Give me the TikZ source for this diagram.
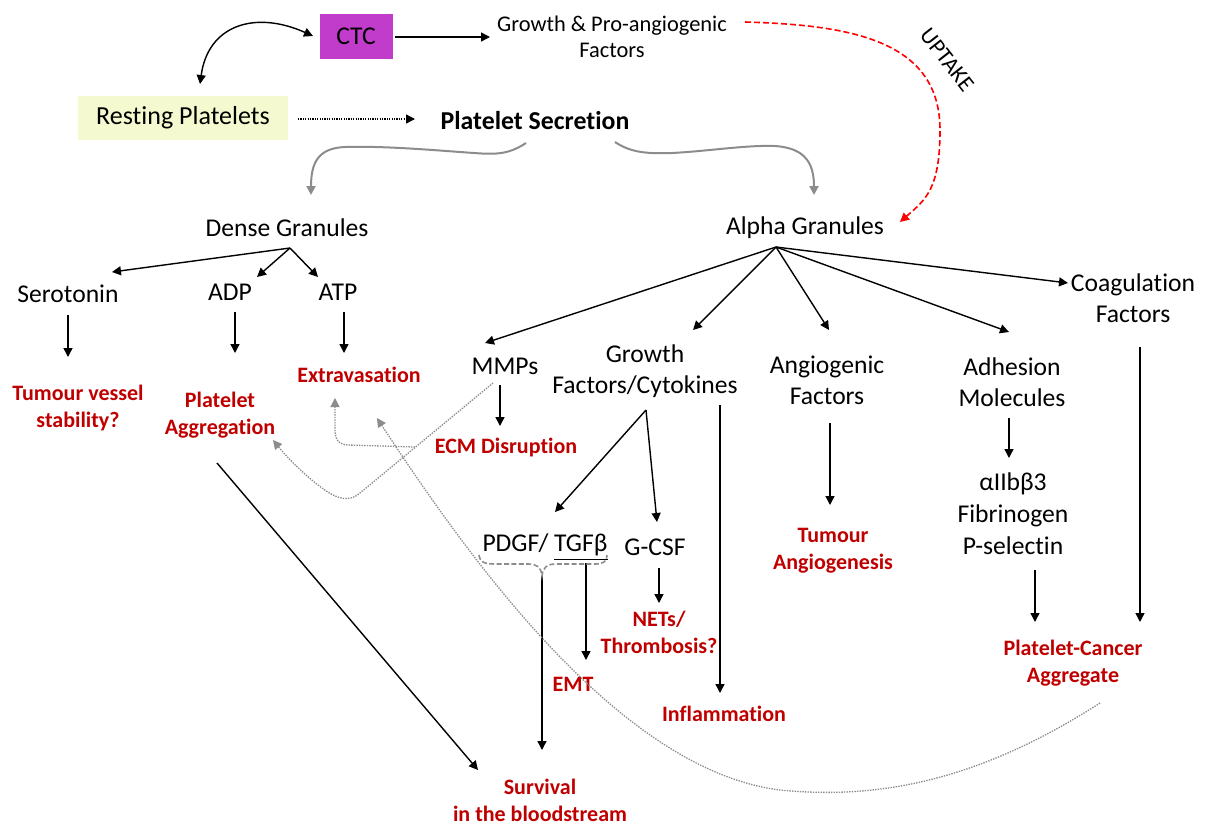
\documentclass[tikz,border=0pt]{standalone}
\usepackage{fontspec}
\setmainfont{Carlito}[Ligatures=NoCommon]
\usetikzlibrary{arrows.meta,calc}
\definecolor{dred}{RGB}{192,0,0}
\definecolor{ctcfill}{RGB}{194,60,204}
\definecolor{restfill}{RGB}{245,249,207}
\definecolor{gcol}{RGB}{140,140,140}
\definecolor{dcol}{RGB}{140,140,140}
\tikzset{
  lbl/.style={font=\fontsize{12.8}{15.5}\selectfont, align=center, inner sep=0pt},
  rlbl/.style={font=\fontsize{11}{13.4}\selectfont\bfseries, text=dred, align=center, inner sep=0pt},
  arr/.style={-{Triangle[length=4.5pt,width=4.5pt]}, line width=0.7pt},
  dblarr/.style={{Triangle[length=4.5pt,width=4.5pt]}-{Triangle[length=4.5pt,width=4.5pt]}, line width=0.7pt},
  gcurve/.style={-{Triangle[length=4.5pt,width=4.5pt]}, draw=gcol, line width=1pt},
  gdot/.style={-{Triangle[length=4.5pt,width=4.5pt]}, draw=dcol, line width=0.65pt, dash pattern=on 0.7pt off 0.6pt},
  uparr/.style={-{Triangle[length=4.5pt,width=4.5pt]}, draw=red, line width=0.8pt, dash pattern=on 3pt off 1.5pt},
  dotarr/.style={-{Triangle[length=4.5pt,width=4.5pt]}, line width=0.7pt, dash pattern=on 0.6pt off 0.6pt},
}
\begin{document}
\begin{tikzpicture}[x=0.5pt,y=-0.5pt]
\useasboundingbox (0,0) rectangle (1206,826);

% ---- top nodes
\node[fill=ctcfill, minimum width=36.5pt, minimum height=22.5pt, inner sep=0pt, font=\fontsize{12.8}{15}\selectfont] (ctc) at (356,36) {CTC};
\node[inner sep=0pt, align=center, font=\fontsize{11.2}{13}\selectfont] (gf) at (612,37) {Growth \& Pro-angiogenic\\Factors};
\node[fill=restfill, minimum width=105pt, minimum height=22pt, inner sep=0pt, font=\fontsize{13}{15}\selectfont] (rest) at (183,118) {Resting Platelets};
\node[inner sep=0pt, font=\fontsize{12.9}{15}\selectfont\bfseries] (ps) at (535,121) {Platelet Secretion};

\node[lbl] (dense) at (287,228) {Dense Granules};
\node[lbl] (alpha) at (805,228) {Alpha Granules};

% ---- dense branch
\node[lbl] (sero) at (68,294) {Serotonin};
\node[lbl] (adp) at (230,292) {ADP};
\node[lbl] (atp) at (338,292) {ATP};
\node[rlbl] (tvs) at (78,408) {Tumour vessel\\stability?};
\node[rlbl] (pagg) at (220,415) {Platelet\\Aggregation};
\node[rlbl] (extra) at (359,375) {Extravasation};

% ---- alpha branch
\node[lbl] (mmp) at (505,366) {MMPs};
\node[lbl] (gfc) at (645,371) {Growth\\Factors/Cytokines};
\node[lbl] (ang) at (827,380) {Angiogenic\\Factors};
\node[lbl] (adh) at (1012,382) {Adhesion\\Molecules};
\node[lbl] (coag) at (1133,298) {Coagulation\\Factors};
\node[rlbl] (ecm) at (506,448) {ECM Disruption};
\node[lbl] (pdgf) at (545,547) {PDGF/ \underline{TGFβ}};
\node[lbl] (gcsf) at (655,547) {G-CSF};
\node[rlbl] (tang) at (833,551) {Tumour\\Angiogenesis};
\node[lbl, font=\fontsize{12.8}{16}\selectfont] (adhl) at (1013,514) {αIIbβ3\\Fibrinogen\\P-selectin};
\node[rlbl] (pca) at (1073,663) {Platelet-Cancer\\Aggregate};
\node[rlbl] (nets) at (659,632) {NETs/\\Thrombosis?};
\node[rlbl] (emt) at (573,684) {EMT};
\node[rlbl] (infl) at (724,714) {Inflammation};
\node[rlbl] (surv) at (540,800) {Survival\\in the bloodstream};

% ---- top connectors
\draw[arr] ($(ctc)+(39,1)$) -- ($(gf)+(-122,0)$);
\draw[dblarr] ($(rest)+(17,-34)$) .. controls ($(rest)+(25,-93)$) and ($(ctc)+(-101,-26)$) .. ($(ctc)+(-43,0)$);
\draw[dotarr] ($(rest)+(115,1)$) -- ($(ps)+(-120,-2)$);
\draw[gcurve] ($(ps)+(-9,22)$) .. controls (505,157) and (490,154) .. (460,152)
  .. controls (420,149) and (380,146) .. (345,147)
  .. controls (318,148) and ($(dense)+(24,-65)$) .. ($(dense)+(24,-33)$);
\draw[gcurve] ($(ps)+(80,21)$) .. controls (630,152) and (645,154) .. (672,153)
  .. controls (710,151) and (745,145) .. (775,146)
  .. controls (805,148) and ($(alpha)+(9,-65)$) .. ($(alpha)+(9,-33)$);
\draw[uparr] ($(gf)+(133,-15)$) .. controls ($(gf)+(238,-12)$) and ($(gf)+(328,3)$) .. ($(gf)+(328,93)$) .. controls ($(gf)+(328,153)$) and ($(alpha)+(120,-28)$) .. ($(alpha)+(95,-6)$);
\node[inner sep=0pt, rotate=-52, font=\fontsize{11.5}{13}\selectfont] (upt) at (947,60) {UPTAKE};

% ---- dense connectors
\coordinate (dgo) at ($(dense)+(3,20)$);
\draw[arr] (dgo) -- ($(sero)+(44,-22)$);
\draw[arr] (dgo) -- ($(adp)+(27,-15)$);
\draw[arr] (dgo) -- ($(atp)+(-20,-15)$);
\draw[arr] ($(sero)+(0,21)$) -- ($(tvs)+(-10,-51)$);
\draw[arr] ($(adp)+(5,20)$) -- ($(pagg)+(15,-62)$);
\draw[arr] ($(atp)+(6,20)$) -- ($(extra)+(-15,-22)$);

% ---- alpha connectors
\coordinate (ago) at ($(alpha)+(-29,19)$);
\draw[arr] (ago) -- ($(mmp)+(-20,-23)$);
\draw[arr] (ago) -- ($(gfc)+(48,-41)$);
\draw[arr] (ago) -- ($(ang)+(2,-50)$);
\draw[arr] (ago) -- ($(adh)+(-3,-50)$);
\draw[arr] (ago) -- ($(coag)+(-65,-15)$);
\draw[arr] ($(mmp)+(-5,19)$) -- ($(ecm)+(-6,-22)$);
\coordinate (gco) at ($(gfc)+(1,39)$);
\draw[arr] (gco) -- ($(pdgf)+(10,-35)$);
\draw[arr] (gco) -- ($(gcsf)+(2,-25)$);
\draw[arr] ($(gfc)+(75,34)$) -- ($(infl)+(-4,-21)$);
\draw[arr] ($(ang)+(3,43)$) -- ($(tang)+(-3,-46)$);
\draw[arr] ($(adh)+(-3,36)$) -- ($(adhl)+(-4,-56)$);
\draw[arr] ($(adhl)+(22,56)$) -- ($(pca)+(-38,-41)$);
\draw[arr] ($(coag)+(7,49)$) -- ($(pca)+(67,-41)$);
\draw[arr] ($(gcsf)+(4,21)$) -- ($(nets)+(0,-29)$);
\draw[arr] ($(pdgf)+(-3,29)$) -- ($(surv)+(2,-50)$);
\draw[arr] ($(pdgf)+(41,16)$) -- ($(emt)+(13,-24)$);
\draw[arr] ($(pagg)+(-3,48)$) -- ($(surv)+(-62,-30)$);

% ---- brace under PDGF/TGFb
\draw[draw=dcol, line width=0.8pt, dash pattern=on 2.5pt off 1.2pt]
  (479,555) .. controls (480,562) and (484,564) .. (495,564) -- (528,564)
  .. controls (537,564) and (541,567) .. (542,576)
  .. controls (543,567) and (547,564) .. (556,564) -- (595,564)
  .. controls (604,564) and (607,561) .. (607,555);

% ---- dotted grey connectors
\draw[gdot] ($(mmp)+(-12,17)$) -- (360,493) .. controls (350,502) and (338,500) .. (322,488) .. controls (303,474) and (286,456) .. ($(pagg)+(53,25)$);
\draw[gdot] ($(ecm)+(-91,-1)$) -- (348,445) .. controls (338,444) and (335,440) .. (335,428) -- ($(extra)+(-24,23)$);
\draw[gdot] ($(pca)+(27,40)$) .. controls (980,780) and (880,800) .. (780,790) .. controls (620,770) and (470,560) .. ($(extra)+(18,43)$);
\end{tikzpicture}
\end{document}
